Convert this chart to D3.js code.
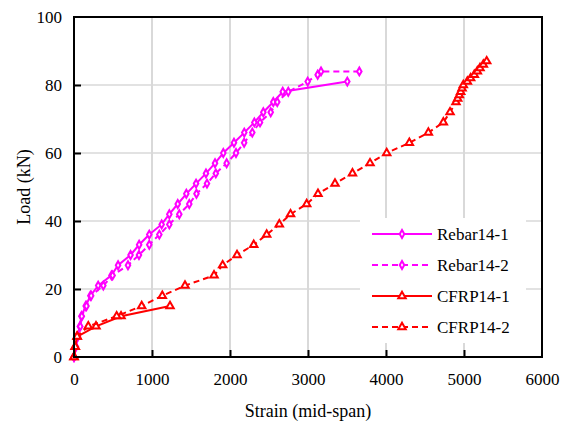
<!DOCTYPE html>
<html><head><meta charset="utf-8">
<script src="https://cdn.jsdelivr.net/npm/d3@7/dist/d3.min.js"></script>
<style>body{margin:0;background:#fff}svg{display:block}</style>
</head><body><svg id="c" width="563" height="425"></svg>
<script>
const xTicks = [0,1000,2000,3000,4000,5000,6000];
const yTicks = [0,20,40,60,80,100];
const seriesNames = ["Rebar14-1","Rebar14-2","CFRP14-1","CFRP14-2"];
const rebar1 = [[0,0],[20,3],[45,6],[75,9],[95,12],[150,15],[210,18],[310,21],[480,24],[565,27],[725,30],[835,33],[965,36],[1124,39],[1222,42],[1330,45],[1440,48],[1565,51],[1692,54],[1808,57],[1914,60],[2051,63],[2183,66],[2312,69],[2427,72],[2555,75],[2676,78],[3504,81]];
const rebar2 = [[0,0],[25,3],[50,6],[80,9],[100,12],[160,15],[220,18],[376,21],[495,24],[692,27],[833,30],[965,33],[1094,36],[1222,39],[1350,42],[1478,45],[1570,48],[1705,51],[1818,54],[1957,57],[2077,60],[2181,63],[2286,66],[2385,69],[2522,72],[2606,75],[2747,78],[2996,81],[3124,83],[3167,84],[3658,84]];
const cfrp1 = [[0,0],[15,3],[40,6],[282,9],[603,12],[1231,15]];
const cfrp2 = [[0,0],[15,3],[40,6],[183,9],[547,12],[868,15],[1132,18],[1423,21],[1795,24],[1906,27],[2090,30],[2304,33],[2470,36],[2632,39],[2776,42],[2983,45],[3128,48],[3346,51],[3570,54],[3795,57],[4009,60],[4299,63],[4543,66],[4735,69],[4821,72],[4897,75],[4919,76],[4940,77],[4957,78],[4975,79],[4991,80],[5043,81],[5085,82],[5132,83],[5171,84],[5205,85],[5248,86],[5291,87]];

const series = [
  {name:seriesNames[0], data:rebar1, color:"#FF00FF", dash:null, sym:d3.symbolDiamond},
  {name:seriesNames[1], data:rebar2, color:"#FF00FF", dash:"6,4", sym:d3.symbolDiamond},
  {name:seriesNames[2], data:cfrp1, color:"#FF0000", dash:null, sym:d3.symbolTriangle},
  {name:seriesNames[3], data:cfrp2, color:"#FF0000", dash:"6,4", sym:d3.symbolTriangle}
];
const FONT="'Times New Roman', 'Liberation Serif', 'DejaVu Serif', serif";
const L=74,R=542,T=17,B=357;
const svg=d3.select("#c");
const x=d3.scaleLinear().domain([0,6000]).range([L,R]);
const y=d3.scaleLinear().domain([0,100]).range([B,T]);
const symSize=s=>s===d3.symbolTriangle?24:18;

svg.append("g").selectAll("line").data(xTicks.slice(1,-1)).join("line")
  .attr("x1",d=>x(d)).attr("x2",d=>x(d)).attr("y1",T).attr("y2",B)
  .attr("stroke","#d9d9d9").attr("stroke-width",2);
svg.append("g").selectAll("line").data(yTicks.slice(1,-1)).join("line")
  .attr("x1",L).attr("x2",R).attr("y1",d=>y(d)).attr("y2",d=>y(d))
  .attr("stroke","#d9d9d9").attr("stroke-width",1.5);

const lg=svg.append("g");
lg.append("rect").attr("x",360).attr("y",218).attr("width",166).attr("height",125).attr("fill","#fff");

const line=d3.line().x(d=>x(d[0])).y(d=>y(d[1]));
series.forEach(s=>{
  svg.append("path").datum(s.data).attr("d",line).attr("fill","none")
    .attr("stroke",s.color).attr("stroke-width",2).attr("stroke-dasharray",s.dash);
  svg.append("g").selectAll("path").data(s.data).join("path")
    .attr("d",d3.symbol().type(s.sym).size(symSize(s.sym)))
    .attr("transform",d=>`translate(${x(d[0])},${y(d[1])})`)
    .attr("fill","#fff").attr("stroke",s.color).attr("stroke-width",2);
});

const ax=d3.axisBottom(x).tickValues(xTicks).tickSize(-7).tickPadding(16).tickFormat(d3.format("d"));
const gx=svg.append("g").attr("transform",`translate(0,${B})`).call(ax);
const ay=d3.axisLeft(y).tickValues(yTicks).tickSize(-7).tickPadding(12);
const gy=svg.append("g").attr("transform",`translate(${L},0)`).call(ay);
[gx,gy].forEach(g=>{
  g.attr("font-family",FONT).attr("font-size",17);
  g.select(".domain").remove();
  g.selectAll(".tick line").attr("stroke","#000").attr("stroke-width",2);
  g.selectAll("text").attr("fill","#000");
});
gx.selectAll(".tick").filter(d=>d===0||d===6000).select("line").remove();
gy.selectAll(".tick").filter(d=>d===0||d===100).select("line").remove();
svg.append("rect").attr("x",L).attr("y",T).attr("width",R-L).attr("height",B-T)
  .attr("fill","none").attr("stroke","#000").attr("stroke-width",2);

svg.append("text").attr("x",(L+R)/2).attr("y",417).attr("text-anchor","middle").attr("font-family",FONT).attr("font-size",18).text("Strain (mid-span)");
svg.append("text").attr("transform","translate(30,187) rotate(-90)").attr("text-anchor","middle").attr("font-family",FONT).attr("font-size",18).text("Load (kN)");

series.forEach((s,i)=>{
  const yy=234+i*31;
  lg.append("line").attr("x1",372).attr("x2",432).attr("y1",yy).attr("y2",yy)
    .attr("stroke",s.color).attr("stroke-width",2).attr("stroke-dasharray",s.dash);
  lg.append("path").attr("d",d3.symbol().type(s.sym).size(symSize(s.sym))())
    .attr("transform",`translate(402,${yy})`).attr("fill","#fff").attr("stroke",s.color).attr("stroke-width",2);
  lg.append("text").attr("x",437).attr("y",yy+6).attr("font-family",FONT).attr("font-size",17).text(s.name);
});
</script></body></html>
